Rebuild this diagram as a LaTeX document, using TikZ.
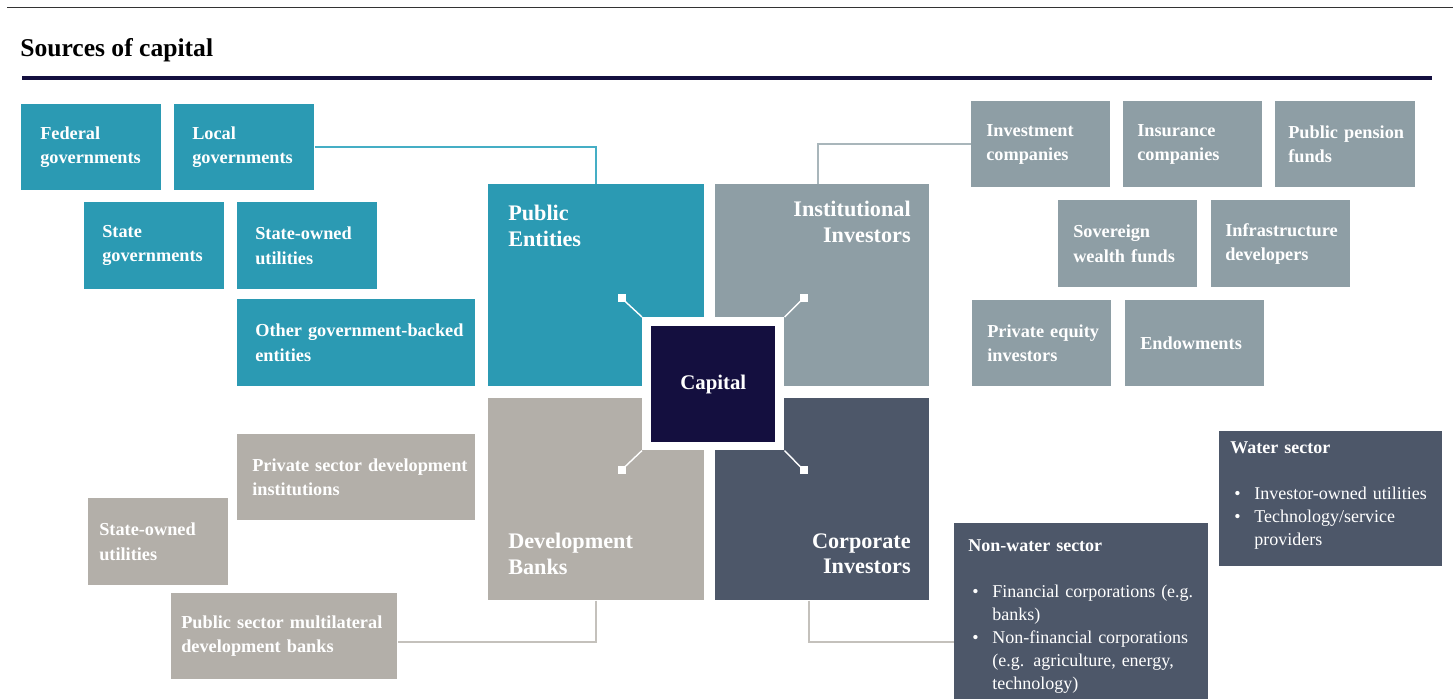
\documentclass[tikz,border=0pt]{standalone}
\usepackage{fontspec}
\setmainfont{Liberation Serif}
\definecolor{pubcol}{HTML}{2B9AB3}
\definecolor{publn}{HTML}{45AEC5}
\definecolor{instcol}{HTML}{8E9EA5}
\definecolor{instln}{HTML}{A9B6BB}
\definecolor{devcol}{HTML}{B3AFA9}
\definecolor{devln}{HTML}{C4C1BC}
\definecolor{corpcol}{HTML}{4D5769}
\definecolor{navy}{HTML}{140F3F}
\newcommand\pxu{0.025cm}
\newcommand\bul[1]{\par\hangindent=0.6cm\hangafter=1\noindent\hbox to 0.6cm{\hskip0.1cm\textbullet\hfil}#1}
\begin{document}
\begin{tikzpicture}[x=0.025cm, y=-0.025cm,
  box/.style n args={3}{anchor=north west, inner sep=0pt,
    minimum width=#1*\pxu, minimum height=#2*\pxu, text width=#1*\pxu,
    execute at begin node={\leftskip=#3\dimexpr\pxu\relax\hyphenpenalty=10000\exhyphenpenalty=10000},
    align=left, text=white, font=\bfseries\fontsize{13}{17.2}\selectfont},
  quad/.style 2 args={anchor=north west, inner sep=0pt, minimum width=#1*\pxu, minimum height=#2*\pxu},
  qtext/.style={inner sep=0pt, text=white, font=\bfseries\fontsize{15.8}{18}\selectfont},
  ltext/.style={anchor=north west, inner sep=0pt, text=white, align=left,
    font=\fontsize{12.8}{16.4}\selectfont},
  dot/.style={fill=white, inner sep=0pt, minimum size=8*\pxu},
  conn/.style={line width=1.5pt},
  wline/.style={white, line width=1pt}]
\useasboundingbox (0,0) rectangle (1453,698);
% header
\draw[line width=1pt, black!80] (7,7.5) -- (1453,7.5);
\node[anchor=base west, inner sep=0pt, font=\bfseries\fontsize{18.2}{20}\selectfont] (ttl) at (20,56) {Sources of capital};
\draw[line width=3.5*\pxu, navy] (22,78) -- (1432,78);
% four quadrants
\node[quad={216}{202}, fill=pubcol] (pe) at (488,184) {};
\node[quad={214}{202}, fill=instcol] (ii) at (715,184) {};
\node[quad={216}{202}, fill=devcol] (db) at (488,398) {};
\node[quad={214}{202}, fill=corpcol] (ci) at (715,398) {};
\node[qtext, anchor=north west, align=left] (pet) at (508,205) {Public\\Entities};
\node[qtext, anchor=north east, align=right] (iit) at (911,201) {Institutional\\Investors};
\node[qtext, anchor=north west, align=left] (dbt) at (508,533) {Development\\Banks};
\node[qtext, anchor=north east, align=right] (cit) at (911,533) {Corporate\\Investors};
% capital in the middle
\node[quad={142}{133}, fill=white] (frm) at (642,317) {};
\node[quad={124}{116}, fill=navy, text=white, font=\bfseries\fontsize{14.8}{16}\selectfont] (cap) at (651,326) {Capital};
\node[dot] (d1) at (621.5,298) {};
\node[dot] (d2) at (803.5,298) {};
\node[dot] (d3) at (621.5,470) {};
\node[dot] (d4) at (803.5,470) {};
\draw[wline] (d1.center) -- (frm.north west);
\draw[wline] (d2.center) -- (frm.north east);
\draw[wline] (d3.center) -- (frm.south west);
\draw[wline] (d4.center) -- (frm.south east);
% public entities
\node[box={140}{86}{19}, fill=pubcol] (fed) at (21,104) {Federal\\governments};
\node[box={140}{86}{18}, fill=pubcol] (loc) at (174,104) {Local\\governments};
\node[box={140}{87}{18}, fill=pubcol] (stg) at (84,202) {State\\governments};
\node[box={140}{87}{18}, fill=pubcol] (sou) at (237,202) {State-owned\\utilities};
\node[box={238}{87}{18}, fill=pubcol] (ogb) at (237,299) {Other government-backed\\entities};
\draw[conn, publn] (loc.east) -| (pe.north);
% institutional investors
\node[box={139}{86}{15}, fill=instcol] (inv) at (971,101) {Investment\\companies};
\node[box={139}{86}{14}, fill=instcol] (ins) at (1123,101) {Insurance\\companies};
\node[box={140}{86}{13}, fill=instcol] (ppf) at (1275,101) {Public pension\\funds};
\node[box={139}{87}{15}, fill=instcol] (swf) at (1058,200) {Sovereign\\wealth funds};
\node[box={139}{87}{14}, fill=instcol] (ifd) at (1211,200) {Infrastructure\\developers};
\node[box={139}{86}{15}, fill=instcol] (pei) at (972,300) {Private equity\\investors};
\node[box={139}{86}{15}, fill=instcol] (edw) at (1125,300) {Endowments};
\draw[conn, instln] (inv.west) -| ([xshift=-0.1cm]ii.north);
% development banks
\node[box={238}{86}{15}, fill=devcol] (psd) at (237,434) {Private sector development\\institutions};
\node[box={140}{87}{11}, fill=devcol] (dsu) at (88,498) {State-owned\\utilities};
\node[box={226}{86}{10}, fill=devcol] (psm) at (171,593) {Public sector multilateral\\development banks};
\draw[conn, devln] (db.south) |- ([yshift=-0.15cm]psm.east);
% corporate investors
\node[quad={254}{180}, fill=corpcol] (nwb) at (954,523) {};
\node[quad={223}{135}, fill=corpcol] (wsb) at (1219,431) {};
\coordinate (nwin) at (954,642);
\draw[conn, devln] ([xshift=-0.325cm]ci.south) |- (nwin);
\node[ltext, text width=6cm] (nwt) at (968,539) {\textbf{Non-water sector}\par\vskip0.575cm
  \bul{Financial corporations (e.g.\newline banks)}\bul{Non-financial corporations\newline (e.g. agriculture, energy,\newline technology)}\par};
\node[ltext, text width=5.4cm] (wst) at (1230,441) {\textbf{Water sector}\par\vskip0.575cm
  \bul{Investor-owned utilities}\bul{Technology/service\newline providers}\par};
\end{tikzpicture}
\end{document}
